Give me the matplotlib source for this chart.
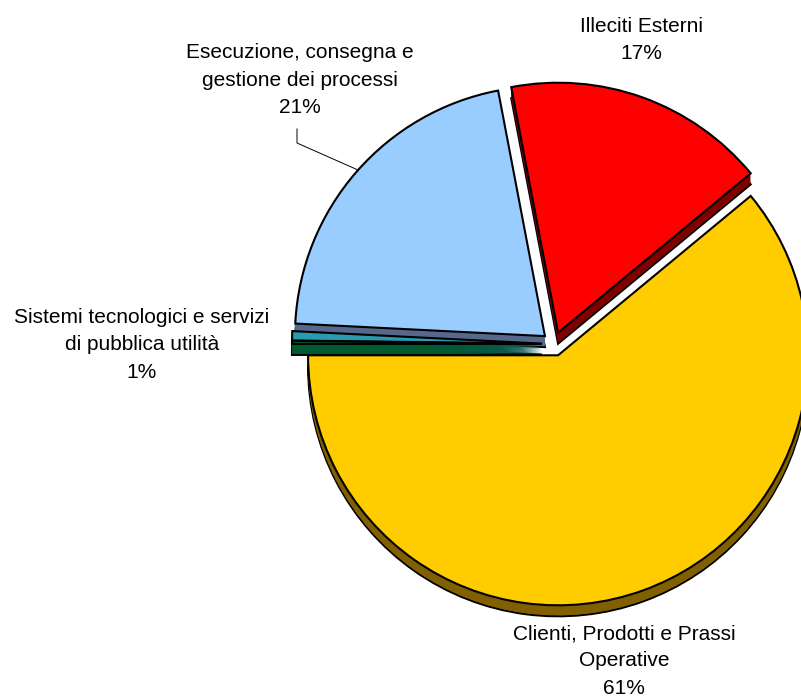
import matplotlib
matplotlib.use("Agg")
import matplotlib.pyplot as plt

# data (clockwise from the top)
categories = ["Illeciti Esterni",
              "Clienti, Prodotti e Prassi\nOperative",
              "Danni a beni materiali",
              "Sistemi tecnologici e servizi\ndi pubblica utilità",
              "Esecuzione, consegna e\ngestione dei processi"]
values = [17.0, 61.0, 0.2, 0.6, 21.2]
show_label = [True, True, False, True, True]

top_colors = ["#FF0000", "#FFCC00", "#005A30", "#2A9AB0", "#99CCFF"]
side_colors = ["#800000", "#806000", "#005A30", "#155866", "#56698A"]
zorders = [1, 5, 4, 3, 2]   # back to front

W, H = 801, 700
R = 250.0                   # pie radius in pixels, used as the data unit
cx, cy = 554 / R, (H - 344) / R
depth = 11 / R
explode = [12.0 / R] * len(values)
start = 100.8

fig = plt.figure(figsize=(W / 100, H / 100), dpi=100)
ax = fig.add_axes([0, 0, 1, 1])


def layer(dy, colors, lw, zoff):
    wedges, _ = ax.pie(values, colors=colors, startangle=start, counterclock=False,
                       radius=1, center=(cx, cy - dy), explode=explode,
                       wedgeprops=dict(linewidth=lw, edgecolor="black" if lw else "none"))
    for w, z in zip(wedges, zorders):
        w.set_zorder(z + zoff)


# side of the 3d pie: bottom outline then fill up to the top face
layer(depth, side_colors, 1.5, 0.1)
n = 12
for i in range(n):
    layer(depth * (n - 1 - i) / n, side_colors, 0, 0.2 + i * 0.01)
layer(0, top_colors, 1.5, 0.6)

# labels
label_pos = [(641, 40), (624, 661), None, (142, 345), (300, 80)]
for cat, v, show, pos in zip(categories, values, show_label, label_pos):
    if not show:
        continue
    ax.text(pos[0] / R, (H - pos[1]) / R, f"{cat}\n{v:.0f}%", ha="center", va="center",
            fontsize=15, family="Liberation Sans", linespacing=1.55, zorder=10)

# leader line for Esecuzione
lx = [297 / R, 297 / R, 358 / R]
ly = [(H - 129) / R, (H - 143) / R, (H - 170) / R]
ax.plot(lx, ly, color="black", linewidth=0.7, zorder=10)

ax.set_xlim(0, W / R)
ax.set_ylim(0, H / R)
ax.set_aspect("equal")
ax.axis("off")

fig.savefig("out.png", dpi=100)
